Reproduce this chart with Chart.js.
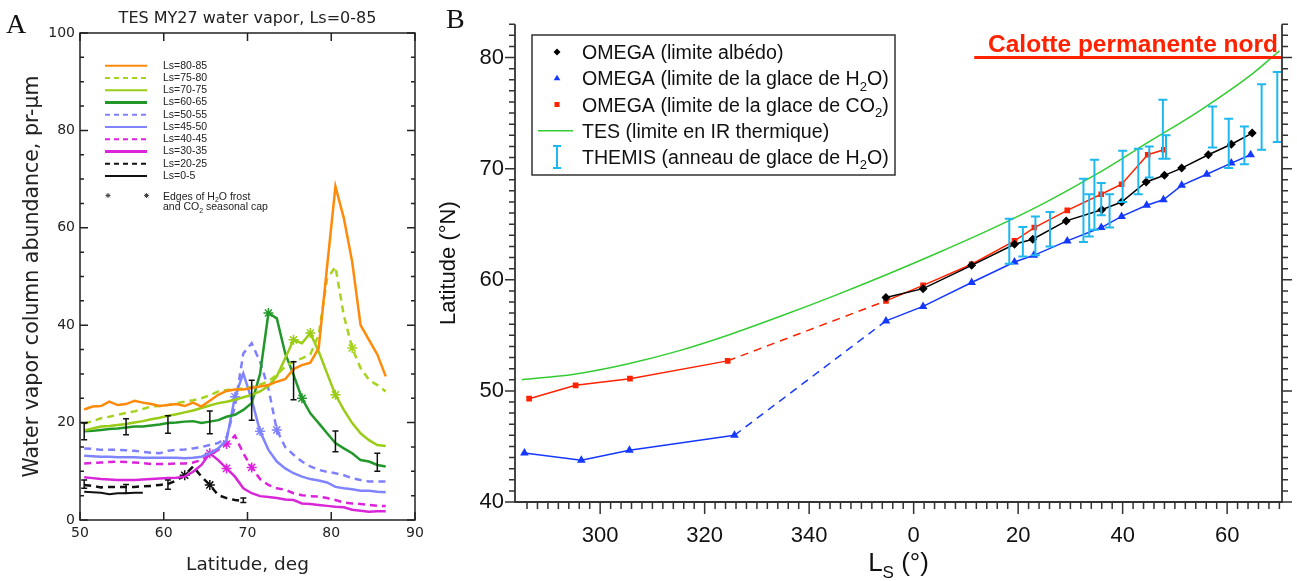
<!DOCTYPE html>
<html lang="fr">
<head>
<meta charset="utf-8">
<title>Vapeur d'eau TES et limites de la calotte nord</title>
<script src="https://cdn.jsdelivr.net/npm/chart.js@4.4.1/dist/chart.umd.min.js"></script>
<style>
  html, body { margin: 0; padding: 0; background: #fff; }
  #wrap { position: relative; width: 1297px; height: 581px; overflow: hidden; }
  #chartA { position: absolute; left: 0; top: 0; }
  #chartB { position: absolute; left: 430px; top: 0; }
</style>
</head>
<body>
<div id="wrap">
  <canvas id="chartA" width="430" height="581"></canvas>
  <canvas id="chartB" width="867" height="581"></canvas>
</div>
<script>
// ---------- panel A : TES MY27 water vapour (pr-um) vs latitude ----------
const LAT = [50.5, 51.5, 52.5, 53.5, 54.5, 55.5, 56.5, 57.5, 58.5, 59.5,
             60.5, 61.5, 62.5, 63.5, 64.5, 65.5, 66.5, 67.5, 68.5, 69.5,
             70.5, 71.5, 72.5, 73.5, 74.5, 75.5, 76.5, 77.5, 78.5, 79.5,
             80.5, 81.5, 82.5, 83.5, 84.5, 85.5, 86.5];

const VAP_80_85 = [22.7, 23.3, 23.4, 24.3, 23.6, 23.8, 24.5, 24.1, 23.8, 23.4,
                   23.6, 23.8, 23.4, 24.1, 23.3, 24.5, 25.7, 26.5, 26.8, 26.8,
                   27.1, 27.4, 27.7, 28.4, 28.9, 31.0, 31.8, 32.3, 35.3, 52.0,
                   68.5, 62.0, 53.0, 40.0, 37.0, 34.0, 29.5];
const VAP_75_80 = [19.8, 20.3, 20.9, 21.2, 21.6, 22.0, 22.3, 22.8, 23.3, 23.4,
                   23.6, 24.0, 24.3, 24.6, 25.0, 25.6, 26.4, 26.7, 26.8, 27.0,
                   27.3, 27.8, 28.5, 29.8, 31.5, 32.5, 33.2, 34.0, 38.0, 49.5,
                   52.0, 42.0, 35.3, 31.2, 28.8, 27.7, 26.4];
const VAP_70_75 = [18.4, 18.8, 19.2, 19.3, 19.5, 19.7, 20.0, 20.3, 20.7, 21.0,
                   21.4, 21.7, 22.1, 22.5, 23.0, 23.5, 24.0, 24.3, 24.7, 25.2,
                   25.7, 26.4, 27.5, 29.5, 33.2, 37.0, 36.3, 38.4, 34.6, 30.1,
                   25.7, 22.6, 19.9, 17.8, 16.4, 15.4, 15.2];
const VAP_60_65 = [18.2, 18.3, 18.5, 18.7, 18.8, 19.0, 19.2, 19.2, 19.4, 19.6,
                   19.9, 20.0, 20.2, 20.3, 19.9, 20.2, 20.5, 21.2, 21.6, 22.6,
                   24.0, 30.0, 42.5, 41.4, 34.2, 29.8, 25.0, 21.9, 19.9, 17.8,
                   15.8, 14.7, 13.7, 12.3, 12.0, 11.3, 11.0];
const VAP_50_55 = [14.7, 14.6, 14.4, 14.4, 14.4, 14.3, 14.2, 14.0, 13.8, 13.7,
                   14.2, 14.4, 14.5, 14.7, 15.0, 15.4, 15.8, 17.0, 23.3, 34.2,
                   36.3, 32.5, 27.0, 18.5, 15.0, 13.4, 12.0, 11.0, 10.3, 9.9,
                   9.6, 9.2, 8.6, 8.2, 7.9, 7.9, 7.9];
const VAP_45_50 = [13.2, 13.1, 13.0, 13.0, 12.9, 12.9, 12.9, 12.8, 12.8, 12.8,
                   12.8, 12.8, 12.7, 12.8, 13.0, 13.7, 14.7, 16.4, 25.3, 30.1,
                   24.7, 18.2, 14.4, 12.0, 10.6, 9.6, 8.9, 8.4, 8.1, 7.7,
                   6.8, 6.5, 6.3, 6.0, 6.0, 5.8, 5.7];
const VAP_40_45 = [11.6, 11.7, 11.8, 11.9, 12.0, 11.9, 11.8, 11.7, 11.5, 11.5,
                   11.5, 11.6, 11.6, 11.8, 12.3, 13.4, 14.4, 15.6, 17.3, 13.7,
                   10.8, 8.4, 7.2, 6.5, 6.2, 5.5, 5.1, 4.9, 4.8, 4.5,
                   4.1, 3.6, 3.4, 3.3, 3.1, 2.9, 2.9];
const VAP_30_35 = [8.8, 8.6, 8.4, 8.3, 8.2, 8.2, 8.2, 8.3, 8.4, 8.5,
                   8.6, 8.7, 8.9, 9.9, 11.3, 13.7, 12.3, 10.6, 8.9, 6.5,
                   5.5, 4.9, 4.7, 4.5, 4.2, 4.1, 3.4, 3.3, 3.1, 2.9,
                   2.7, 2.6, 2.1, 1.9, 1.7, 1.8, 1.8];
const VAP_20_25 = [7.2, 7.0, 6.7, 6.8, 6.8, 6.8, 6.8, 6.9, 7.0, 7.2,
                   7.4, 8.1, 9.2, 11.0, 8.9, 7.2, 5.1, 4.5, 4.1, 3.9,
                   null, null, null, null, null, null, null, null, null, null,
                   null, null, null, null, null, null, null];
const VAP_0_5 = [5.8, 5.7, 5.6, 5.3, 5.5, 5.5, 5.6, 5.6, null, null,
                 null, null, null, null, null, null, null, null, null, null,
                 null, null, null, null, null, null, null, null, null, null,
                 null, null, null, null, null, null, null];

// latitudes where the H2O frost / CO2 cap edges are marked
const EDGE_80_85 = [];
const EDGE_75_80 = [82.5];
const EDGE_70_75 = [75.5, 77.5, 80.5];
const EDGE_60_65 = [72.5, 76.5];
const EDGE_50_55 = [73.5];
const EDGE_45_50 = [68.5, 71.5];
const EDGE_40_45 = [67.5, 70.5];
const EDGE_30_35 = [65.5, 67.5];
const EDGE_20_25 = [62.5, 65.5];
const EDGE_0_5 = [];

// error bars
const ERR_LAT = [50.5, 50.5, 55.5, 55.5, 60.5, 60.5, 65.5, 69.5, 70.5, 75.5, 80.5, 85.5];
const ERR_LO  = [16.5, 6.5, 17.5, 5.5, 17.8, 6.3, 17.7, 3.6, 20.5, 24.7, 14.0, 10.0];
const ERR_HI  = [19.9, 8.2, 20.8, 7.3, 21.4, 8.2, 22.4, 4.5, 28.7, 32.5, 18.3, 13.7];

const A_X_TICKS = [50, 60, 70, 80, 90];
const A_Y_TICKS = [0, 20, 40, 60, 80, 100];

// ---------- panel B : north cap edge (latitude) vs Ls ----------
const ALB_LS  = [354.7, 1.8, 11.1, 19.3, 22.8, 29.2, 36.0, 39.8, 44.5, 48.0, 51.3, 56.4, 60.8, 64.8];
const ALB_LAT = [58.4, 59.2, 61.3, 63.2, 63.65, 65.3, 66.3, 67.0, 68.8, 69.4, 70.05, 71.25, 72.2, 73.2];

const H2O_LS  = [285.5, 296.4, 305.6, 325.7, 354.7, 1.8, 11.1, 19.3, 23.0, 29.4, 35.9, 39.8, 44.6, 47.8, 51.3, 56.1, 60.8, 64.5];
const H2O_LAT = [44.4, 43.75, 44.65, 46.0, 56.3, 57.6, 59.75, 61.6, 62.2, 63.5, 64.7, 65.7, 66.7, 67.2, 68.5, 69.5, 70.5, 71.25];

const CO2_LS  = [286.4, 295.3, 305.7, 324.4, 354.7, 1.8, 11.1, 19.3, 23.1, 29.4, 35.9, 39.8, 44.8, 47.9];
const CO2_LAT = [49.3, 50.5, 51.1, 52.7, 58.1, 59.5, 61.4, 63.5, 64.7, 66.25, 67.7, 68.6, 71.25, 71.7];

const TES_LS  = [285, 295, 305, 315, 325, 335, 345, 355, 5, 15, 25, 35, 45, 55, 65, 70];
const TES_LAT = [51.0, 51.5, 52.4, 53.6, 55.1, 56.8, 58.6, 60.5, 62.5, 64.6, 66.9, 69.5, 72.4, 75.3, 78.6, 80.6];

const THEMIS_LS = [18.3, 20.9, 23.3, 26.1, 32.5, 33.6, 34.6, 35.9, 37.5, 40.0, 43.0, 45.1, 47.7, 48.3, 57.2, 60.3, 63.3, 66.6, 69.6];
const THEMIS_LO = [61.45, 62.1, 62.2, 63.0, 63.4, 63.9, 64.5, 65.8, 64.7, 67.0, 67.7, 69.2, 70.9, 70.9, 71.9, 70.05, 70.4, 71.7, 72.4];
const THEMIS_HI = [65.5, 64.75, 65.7, 66.1, 69.1, 67.7, 70.8, 68.7, 67.7, 71.6, 71.8, 72.0, 76.2, 73.0, 75.6, 74.5, 73.8, 77.6, 78.7];

const CAP_LS = [11.6, 70.5];
const CAP_LAT = 80;

const B_X_TICKS  = [300, 320, 340, 360, 380, 400, 420];
const B_X_LABELS = ['300', '320', '340', '0', '20', '40', '60'];
const B_Y_TICKS  = [40, 50, 60, 70, 80];

// Ls after 0 continues past 360 on the axis
const unwrap = ls => ls < 180 ? ls + 360 : ls;
const pts = (xs, ys) => xs.map((x, i) => ({x: unwrap(x), y: ys[i]}));

function drawRich(ctx, parts, x, y, size, family, align, weight) {
  const w8 = weight ? weight + ' ' : '';
  const sub = Math.round(size * 0.66);
  let total = 0;
  parts.forEach(p => {
    ctx.font = w8 + (p[1] ? sub : size) + 'px ' + family;
    total += ctx.measureText(p[0]).width;
  });
  let cx = align === 'center' ? x - total / 2 : (align === 'right' ? x - total : x);
  ctx.textAlign = 'left';
  ctx.textBaseline = 'alphabetic';
  parts.forEach(p => {
    ctx.font = w8 + (p[1] ? sub : size) + 'px ' + family;
    ctx.fillText(p[0], cx, p[1] ? y + size * 0.27 : y);
    cx += ctx.measureText(p[0]).width;
  });
}

function marker(ctx, style, x, y, r) {
  ctx.beginPath();
  if (style === 'rectRot') {
    ctx.moveTo(x, y - r); ctx.lineTo(x + r, y); ctx.lineTo(x, y + r); ctx.lineTo(x - r, y);
  } else if (style === 'triangle') {
    ctx.moveTo(x, y - r); ctx.lineTo(x + r * 0.95, y + r * 0.6); ctx.lineTo(x - r * 0.95, y + r * 0.6);
  } else {
    ctx.rect(x - r, y - r, 2 * r, 2 * r);
  }
  ctx.closePath();
  ctx.fill();
}

function star(ctx, x, y, r) {
  ctx.beginPath();
  for (let k = 0; k < 4; k++) {
    const a = k * Math.PI / 4;
    ctx.moveTo(x - r * Math.cos(a), y - r * Math.sin(a));
    ctx.lineTo(x + r * Math.cos(a), y + r * Math.sin(a));
  }
  ctx.stroke();
}

const FONT_A = "'DejaVu Sans', sans-serif";
const FONT_B = "'Liberation Sans', Arial, sans-serif";

const seriesA = [
  {label: 'Ls=80-85', vals: VAP_80_85, edges: EDGE_80_85, color: '#ff8a0a', dash: [], w: 2.5, lw: 2},
  {label: 'Ls=75-80', vals: VAP_75_80, edges: EDGE_75_80, color: '#a6d41e', dash: [7, 5], w: 2.5, lw: 2},
  {label: 'Ls=70-75', vals: VAP_70_75, edges: EDGE_70_75, color: '#9acc16', dash: [], w: 2.5, lw: 2},
  {label: 'Ls=60-65', vals: VAP_60_65, edges: EDGE_60_65, color: '#23982a', dash: [], w: 2.5, lw: 3},
  {label: 'Ls=50-55', vals: VAP_50_55, edges: EDGE_50_55, color: '#7f80ff', dash: [7, 5], w: 2.5, lw: 2},
  {label: 'Ls=45-50', vals: VAP_45_50, edges: EDGE_45_50, color: '#8085ff', dash: [], w: 2.5, lw: 2},
  {label: 'Ls=40-45', vals: VAP_40_45, edges: EDGE_40_45, color: '#dd22dd', dash: [7, 5], w: 2.5, lw: 2},
  {label: 'Ls=30-35', vals: VAP_30_35, edges: EDGE_30_35, color: '#d826d8', dash: [], w: 2.5, lw: 3},
  {label: 'Ls=20-25', vals: VAP_20_25, edges: EDGE_20_25, color: '#111111', dash: [7, 5], w: 2.5, lw: 2},
  {label: 'Ls=0-5',   vals: VAP_0_5,   edges: EDGE_0_5,   color: '#111111', dash: [], w: 2, lw: 2}
];

const panelA = {
  id: 'panelA',
  afterDraw(chart) {
    const {ctx, chartArea: ca} = chart;
    const xs = chart.scales.x, ys = chart.scales.y;
    ctx.save();
    // frame and inward ticks
    ctx.strokeStyle = '#222';
    ctx.lineWidth = 1.5;
    ctx.strokeRect(ca.left, ca.top, ca.right - ca.left, ca.bottom - ca.top);
    ctx.beginPath();
    for (let v = 0; v <= 100; v += 5) {
      const y = ys.getPixelForValue(v), len = v % 20 === 0 ? 8 : 4;
      ctx.moveTo(ca.left, y); ctx.lineTo(ca.left + len, y);
      ctx.moveTo(ca.right, y); ctx.lineTo(ca.right - len, y);
    }
    A_X_TICKS.forEach(v => {
      const x = xs.getPixelForValue(v);
      ctx.moveTo(x, ca.top); ctx.lineTo(x, ca.top + 8);
      ctx.moveTo(x, ca.bottom); ctx.lineTo(x, ca.bottom - 8);
    });
    ctx.stroke();

    // error bars
    ctx.strokeStyle = '#111';
    ctx.lineWidth = 1.5;
    ctx.beginPath();
    ERR_LAT.forEach((la, i) => {
      const x = xs.getPixelForValue(la);
      const y1 = ys.getPixelForValue(ERR_LO[i]), y2 = ys.getPixelForValue(ERR_HI[i]);
      ctx.moveTo(x, y1); ctx.lineTo(x, y2);
      ctx.moveTo(x - 3, y1); ctx.lineTo(x + 3, y1);
      ctx.moveTo(x - 3, y2); ctx.lineTo(x + 3, y2);
    });
    ctx.stroke();

    // legend
    const rowY = i => 65.7 + i * 12.25;
    seriesA.forEach((s, i) => {
      const y = rowY(i);
      ctx.strokeStyle = s.color;
      ctx.lineWidth = s.lw;
      ctx.setLineDash(s.dash.length ? [5, 4] : []);
      ctx.beginPath(); ctx.moveTo(105, y); ctx.lineTo(147, y); ctx.stroke();
      ctx.setLineDash([]);
      ctx.fillStyle = '#222';
      ctx.font = '10.5px ' + FONT_B;
      ctx.textBaseline = 'middle';
      ctx.textAlign = 'left';
      ctx.fillText(s.label, 163, y);
    });
    ctx.strokeStyle = '#444';
    ctx.lineWidth = 1;
    star(ctx, 108, 195.5, 2.5);
    star(ctx, 146.5, 195.5, 2.5);
    ctx.fillStyle = '#222';
    drawRich(ctx, [['Edges of H'], ['2', 1], ['O frost']], 163, 199.5, 10.5, FONT_B, 'left');
    drawRich(ctx, [['and CO'], ['2', 1], [' seasonal cap']], 163, 210, 10.5, FONT_B, 'left');

    // titles
    ctx.fillStyle = '#222';
    ctx.font = '16px ' + FONT_A;
    ctx.textAlign = 'center';
    ctx.textBaseline = 'alphabetic';
    ctx.fillText('TES MY27 water vapor, Ls=0-85', (ca.left + ca.right) / 2, 23);
    ctx.fillStyle = '#111';
    ctx.font = "28px 'Liberation Serif', serif";
    ctx.textAlign = 'left';
    ctx.fillText('A', 6, 33);
    ctx.restore();
  }
};

new Chart(document.getElementById('chartA'), {
  type: 'line',
  data: {
    datasets: seriesA.map(s => ({
      label: s.label,
      data: LAT.map((la, i) => ({x: la, y: s.vals[i]})).filter(p => p.y !== null),
      borderColor: s.color,
      borderWidth: s.w,
      borderDash: s.dash,
      fill: false,
      tension: 0,
      pointStyle: 'star',
      pointBorderColor: s.color,
      pointBackgroundColor: s.color,
      pointBorderWidth: 1.5,
      pointRadius: c => (c.raw && s.edges.includes(c.raw.x)) ? 5 : 0
    }))
  },
  options: {
    responsive: false,
    animation: false,
    devicePixelRatio: 1,
    layout: {padding: {left: 0, right: 15, top: 33, bottom: 0}},
    plugins: {legend: {display: false}, tooltip: {enabled: false}},
    scales: {
      x: {
        type: 'linear', min: 50, max: 90,
        grid: {display: false, drawTicks: false},
        border: {display: false},
        afterBuildTicks: ax => { ax.ticks = A_X_TICKS.map(v => ({value: v})); },
        afterFit: ax => { ax.height = 61; },
        ticks: {color: '#222', font: {family: FONT_A, size: 14}, padding: 5, maxRotation: 0},
        title: {display: true, text: 'Latitude, deg', color: '#222',
                font: {family: FONT_A, size: 18.5}, padding: {top: 0, bottom: 5}}
      },
      y: {
        type: 'linear', min: 0, max: 100,
        grid: {display: false, drawTicks: false},
        border: {display: false},
        afterBuildTicks: ax => { ax.ticks = A_Y_TICKS.map(v => ({value: v})); },
        afterFit: ax => { ax.width = 80; },
        ticks: {color: '#222', font: {family: FONT_A, size: 14}, padding: 5},
        title: {display: true, text: 'Water vapor column abundance, pr-\u03bcm', color: '#222',
                font: {family: FONT_A, size: 20.5}, padding: {top: 20, bottom: 0}}
      }
    }
  },
  plugins: [panelA]
});

// ---------- chart B ----------
const LEGEND_B = [
  {parts: [['OMEGA (limite alb\u00e9do)']], kind: 'rectRot', color: '#000'},
  {parts: [['OMEGA (limite de la glace de H'], ['2', 1], ['O)']], kind: 'triangle', color: '#1438ff'},
  {parts: [['OMEGA (limite de la glace de CO'], ['2', 1], [')']], kind: 'rect', color: '#ff2200'},
  {parts: [['TES (limite en IR thermique)']], kind: 'line', color: '#33cc33'},
  {parts: [['THEMIS (anneau de glace de H'], ['2', 1], ['O)']], kind: 'err', color: '#1fb8ee'}
];

const dashGap = c => (c.p0.parsed.x < 340 && c.p1.parsed.x > 350) ? [8, 6] : undefined;

const panelB = {
  id: 'panelB',
  afterDraw(chart) {
    const {ctx, chartArea: ca} = chart;
    const xs = chart.scales.x, ys = chart.scales.y;
    ctx.save();
    // THEMIS error bars
    ctx.strokeStyle = '#1fb8ee';
    ctx.lineWidth = 2;
    ctx.beginPath();
    THEMIS_LS.forEach((ls, i) => {
      const x = xs.getPixelForValue(unwrap(ls));
      const y1 = ys.getPixelForValue(THEMIS_LO[i]), y2 = ys.getPixelForValue(THEMIS_HI[i]);
      ctx.moveTo(x, y1); ctx.lineTo(x, y2);
      ctx.moveTo(x - 4.5, y1); ctx.lineTo(x + 4.5, y1);
      ctx.moveTo(x - 4.5, y2); ctx.lineTo(x + 4.5, y2);
    });
    ctx.stroke();

    // axes and outward ticks
    ctx.strokeStyle = '#333';
    ctx.lineWidth = 1.8;
    ctx.beginPath();
    ctx.moveTo(ca.left, ca.top); ctx.lineTo(ca.left, ca.bottom);
    ctx.lineTo(ca.right, ca.bottom); ctx.lineTo(ca.right, ca.top);
    ctx.stroke();
    ctx.lineWidth = 1.5;
    ctx.beginPath();
    for (let v = 40; v <= 83; v++) {
      const y = ys.getPixelForValue(v), len = v % 10 === 0 ? 10 : 6;
      ctx.moveTo(ca.left - len, y); ctx.lineTo(ca.left, y);
      ctx.moveTo(ca.right, y); ctx.lineTo(ca.right + len, y);
    }
    for (let v = 286; v <= 430; v += 2) {
      const x = xs.getPixelForValue(v), len = v % 20 === 0 ? 12 : 7;
      ctx.moveTo(x, ca.bottom); ctx.lineTo(x, ca.bottom + len);
    }
    ctx.stroke();

    // permanent cap label
    ctx.fillStyle = '#ff2200';
    ctx.font = "bold 24.5px " + FONT_B;
    ctx.textAlign = 'right';
    ctx.textBaseline = 'alphabetic';
    ctx.fillText('Calotte permanente nord', ca.right - 4, ys.getPixelForValue(CAP_LAT) - 6);

    // legend box
    const bx = ca.left + 17, by = 35, bw = 363, bh = 140;
    ctx.fillStyle = '#fff';
    ctx.fillRect(bx, by, bw, bh);
    ctx.strokeStyle = '#333';
    ctx.lineWidth = 1.5;
    ctx.strokeRect(bx, by, bw, bh);
    LEGEND_B.forEach((it, i) => {
      const y = 52 + i * 26.25, mx = bx + 25;
      ctx.fillStyle = it.color;
      ctx.strokeStyle = it.color;
      if (it.kind === 'line') {
        ctx.lineWidth = 1.5;
        ctx.beginPath(); ctx.moveTo(mx - 19, y); ctx.lineTo(mx + 16, y); ctx.stroke();
      } else if (it.kind === 'err') {
        ctx.lineWidth = 2;
        ctx.beginPath();
        ctx.moveTo(mx, y - 11); ctx.lineTo(mx, y + 11);
        ctx.moveTo(mx - 4, y - 11); ctx.lineTo(mx + 4, y - 11);
        ctx.moveTo(mx - 4, y + 11); ctx.lineTo(mx + 4, y + 11);
        ctx.stroke();
      } else {
        marker(ctx, it.kind, mx, y, it.kind === 'rect' ? 2.5 : 3.5);
      }
      ctx.fillStyle = '#111';
      drawRich(ctx, it.parts, bx + 50, y + 7, 19.6, FONT_B, 'left');
    });

    // x title and panel letter
    ctx.fillStyle = '#111';
    drawRich(ctx, [['L'], ['S', 1], [' (\u00b0)']], (ca.left + ca.right) / 2, 571, 26, FONT_B, 'center');
    ctx.font = "28px 'Liberation Serif', serif";
    ctx.textAlign = 'left';
    ctx.fillText('B', 16, 28);
    ctx.restore();
  }
};

new Chart(document.getElementById('chartB'), {
  type: 'line',
  data: {
    datasets: [
      {
        label: 'Calotte permanente nord',
        data: CAP_LS.map(ls => ({x: unwrap(ls), y: CAP_LAT})),
        borderColor: '#ff2200', borderWidth: 3, pointRadius: 0
      },
      {
        label: 'OMEGA (limite albédo)',
        data: pts(ALB_LS, ALB_LAT),
        borderColor: '#000', borderWidth: 1.5,
        pointStyle: 'rectRot', pointRadius: 4.5, pointBackgroundColor: '#000', pointBorderWidth: 0
      },
      {
        label: 'OMEGA (limite de la glace de CO2)',
        data: pts(CO2_LS, CO2_LAT),
        borderColor: '#ff2200', borderWidth: 1.5,
        segment: {borderDash: dashGap},
        pointStyle: 'rect', pointRadius: 4, pointBackgroundColor: '#ff2200', pointBorderWidth: 0
      },
      {
        label: 'OMEGA (limite de la glace de H2O)',
        data: pts(H2O_LS, H2O_LAT),
        borderColor: '#1438ff', borderWidth: 1.5,
        segment: {borderDash: dashGap},
        pointStyle: 'triangle', pointRadius: 5, pointBackgroundColor: '#1438ff', pointBorderWidth: 0
      },
      {
        label: 'TES (limite en IR thermique)',
        data: pts(TES_LS, TES_LAT),
        borderColor: '#33cc33', borderWidth: 1.5,
        cubicInterpolationMode: 'monotone', pointRadius: 0
      }
    ]
  },
  options: {
    responsive: false,
    animation: false,
    devicePixelRatio: 1,
    layout: {padding: {left: 0, right: 15, top: 21, bottom: 0}},
    plugins: {legend: {display: false}, tooltip: {enabled: false}},
    scales: {
      x: {
        type: 'linear', min: 283.7, max: 430.5,
        grid: {display: false, drawTicks: false},
        border: {display: false},
        afterBuildTicks: ax => { ax.ticks = B_X_TICKS.map(v => ({value: v})); },
        afterFit: ax => { ax.height = 79; },
        ticks: {
          color: '#111', font: {family: FONT_B, size: 22}, padding: 21, maxRotation: 0, autoSkip: false,
          callback: v => B_X_LABELS[B_X_TICKS.indexOf(v)]
        }
      },
      y: {
        type: 'linear', min: 40, max: 83,
        grid: {display: false, drawTicks: false},
        border: {display: false},
        afterBuildTicks: ax => { ax.ticks = B_Y_TICKS.map(v => ({value: v})); },
        afterFit: ax => { ax.width = 85; },
        ticks: {color: '#111', font: {family: FONT_B, size: 22}, padding: 11},
        title: {display: true, text: 'Latitude (\u00b0N)', color: '#111',
                font: {family: FONT_B, size: 22}, padding: {top: 6, bottom: 0}}
      }
    }
  },
  plugins: [panelB]
});
</script>
</body>
</html>
